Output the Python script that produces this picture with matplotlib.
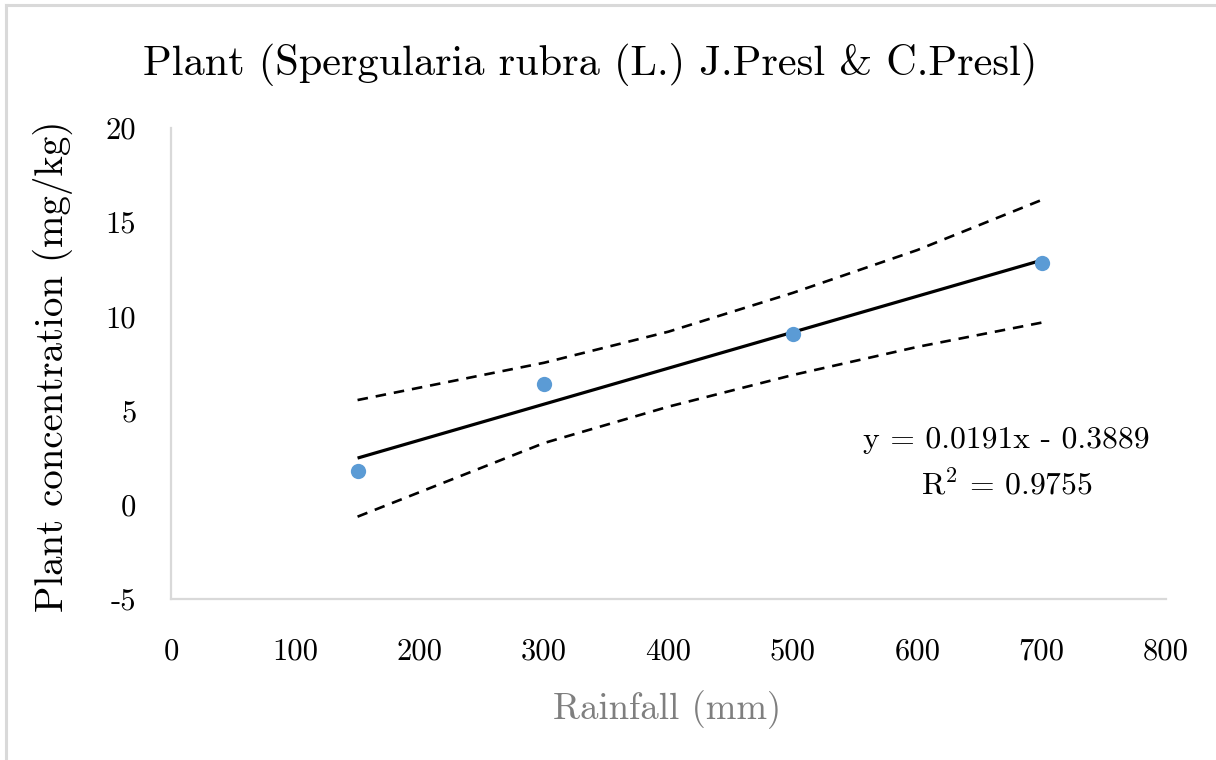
import matplotlib
matplotlib.use("Agg")
import matplotlib.pyplot as plt
from matplotlib.lines import Line2D

# Data
rainfall = [150, 300, 500, 700]
concentration = [1.79, 6.41, 9.05, 12.83]

# Linear trendline endpoints (y = 0.0191x - 0.3889)
trend_x = [150, 700]
trend_y = [2.48, 12.98]

# Confidence band (dashed)
band_x = [150, 300, 400, 500, 600, 700]
band_upper = [5.56, 7.54, 9.19, 11.25, 13.52, 16.18]
band_lower = [-0.63, 3.28, 5.21, 6.89, 8.38, 9.67]

x_ticks = [0, 100, 200, 300, 400, 500, 600, 700, 800]
y_ticks = [-5, 0, 5, 10, 15, 20]

title = "Plant (Spergularia rubra (L.) J.Presl & C.Presl)"
x_label = "Rainfall (mm)"
y_label = "Plant concentration (mg/kg)"
equation = "y = 0.0191x - 0.3889"
r_squared = "R$^2$ = 0.9755"

plt.rcParams['font.family'] = 'cmr10'
plt.rcParams['mathtext.fontset'] = 'cm'
plt.rcParams['axes.unicode_minus'] = False
plt.rcParams['axes.formatter.use_mathtext'] = True

fig = plt.figure(figsize=(12.16, 7.6), dpi=100, facecolor='white')
ax = fig.add_axes([171 / 1216, 1 - 599 / 760, 995 / 1216, 471 / 760])

# Outer frame (top and left edges only visible)
fig.add_artist(Line2D([6 / 1216, 1], [1 - 5 / 760, 1 - 5 / 760],
                      transform=fig.transFigure, color='#d9d9d9', lw=2.2))
fig.add_artist(Line2D([6 / 1216, 6 / 1216], [0, 1 - 5 / 760],
                      transform=fig.transFigure, color='#d9d9d9', lw=2.2))

ax.plot(band_x, band_upper, color='black', lw=1.9, ls=(0, (4, 3)))
ax.plot(band_x, band_lower, color='black', lw=1.9, ls=(0, (4, 3)))
ax.plot(trend_x, trend_y, color='black', lw=2.3, solid_capstyle='butt')
ax.plot(rainfall, concentration, 'o', color='#5b9bd5', markersize=11,
        markeredgewidth=0, zorder=3)

ax.set_xlim(0, 800)
ax.set_ylim(-5, 20)
ax.set_xticks(x_ticks)
ax.set_yticks(y_ticks)
ax.set_xticklabels([str(v) for v in x_ticks])
ax.set_yticklabels([str(v) for v in y_ticks])
ax.tick_params(length=0, labelsize=22, colors='black')
ax.tick_params(axis='x', pad=28)
ax.tick_params(axis='y', pad=25)

for side in ['top', 'right']:
    ax.spines[side].set_visible(False)
for side in ['left', 'bottom']:
    ax.spines[side].set_color('#d9d9d9')
    ax.spines[side].set_linewidth(1.6)

fig.text(667 / 1216, 1 - 710 / 760, x_label, fontsize=26.5, color='#7f7f7f',
         ha='center', va='center')
fig.text(53 / 1216, 1 - 366 / 760, y_label, fontsize=28, rotation=90,
         ha='center', va='center')
fig.text(590 / 1216, 1 - 65 / 760, title, fontsize=30.5, ha='center',
         va='center')

ax.text(672, 2.2, equation + "\n" + r_squared, fontsize=22.8, ha='center',
        va='center', multialignment='center', linespacing=1.55)

fig.savefig('out.png', dpi=100, facecolor='white')
